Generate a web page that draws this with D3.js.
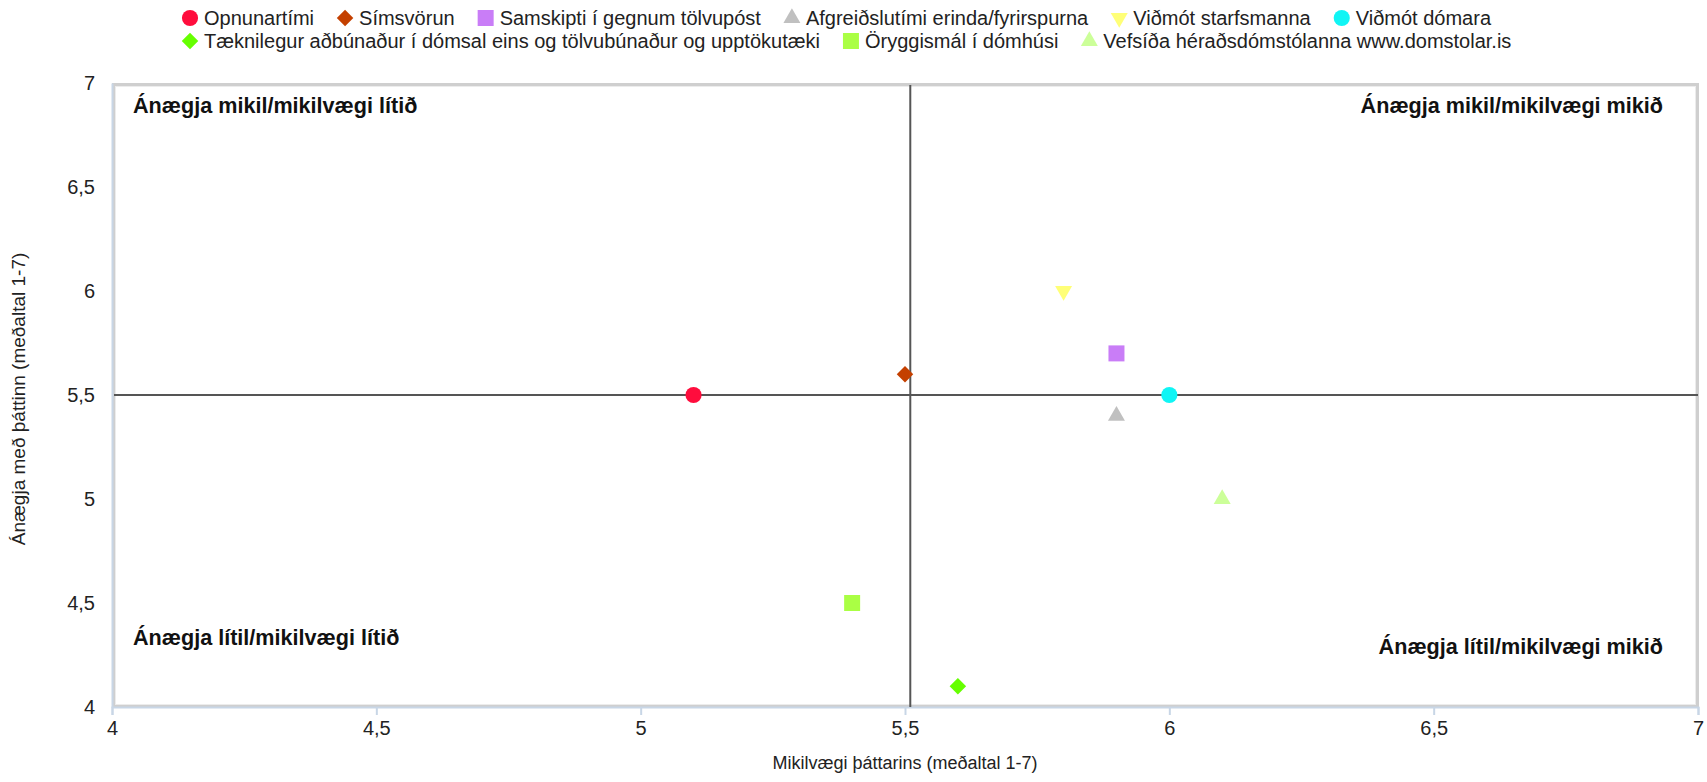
<!DOCTYPE html>
<html>
<head>
<meta charset="utf-8">
<script src="https://cdn.jsdelivr.net/npm/d3@7"></script>
<style>
    body { margin: 0; background: #fff; }
    text { font-family: "Liberation Sans", Arial, sans-serif; }
</style>
</head>
<body>
<div id="data-viz"></div>
<script>
// data
var names = ["Opnunartími", "Símsvörun", "Samskipti í gegnum tölvupóst", "Afgreiðslutími erinda/fyrirspurna",
    "Viðmót starfsmanna", "Viðmót dómara", "Tæknilegur aðbúnaður í dómsal eins og tölvubúnaður og upptökutæki",
    "Öryggismál í dómhúsi", "Vefsíða héraðsdómstólanna www.domstolar.is"];
var importance = [5.1, 5.5, 5.9, 5.9, 5.8, 6.0, 5.6, 5.4, 6.1];
var satisfaction = [5.5, 5.6, 5.7, 5.4, 6.0, 5.5, 4.1, 4.5, 5.0];
var shapes = ["circle", "diamond", "square", "triangle", "triangleDown", "circle", "diamond", "square", "triangle"];
var colors = ["#ff0d3d", "#c44000", "#c97df7", "#c0c0c0", "#ffff77", "#10f5f5", "#66ff00", "#aaff44", "#ccff99"];
var legendRows = [[0, 1, 2, 3, 4, 5], [6, 7, 8]];
var ticks = [4, 4.5, 5, 5.5, 6, 6.5, 7];
var midX = 5.51, midY = 5.5;
var quadrants = ["Ánægja mikil/mikilvægi lítið", "Ánægja mikil/mikilvægi mikið",
    "Ánægja lítil/mikilvægi lítið", "Ánægja lítil/mikilvægi mikið"];
var xTitle = "Mikilvægi þáttarins (meðaltal 1-7)";
var yTitle = "Ánægja með þáttinn (meðaltal 1-7)";

var W = 1707, H = 782;
var margin = { top: 83, right: 9, bottom: 75, left: 112 },
    width = W - margin.left - margin.right,
    height = H - margin.top - margin.bottom;

var svg = d3.select("#data-viz")
    .append("svg")
    .attr("width", W)
    .attr("height", H);

var fmt = d3.formatLocale({ decimal: ",", thousands: ".", grouping: [3], currency: ["", ""] }).format(".1~f");

var x = d3.scaleLinear().domain([4, 7]).range([0, width]);
var y = d3.scaleLinear().domain([4, 7]).range([height, 0]);

var g = svg.append("g")
    .attr("transform", "translate(" + margin.left + "," + margin.top + ")");

// frame with a soft shadow
g.append("rect")
    .attr("x", 1.5).attr("y", 1.5)
    .attr("width", width - 2).attr("height", height - 2)
    .style("fill", "#fff")
    .style("stroke", "#cfcfcf")
    .style("stroke-width", 3);
g.append("rect")
    .attr("x", 3.5).attr("y", 3.5)
    .attr("width", width - 6).attr("height", height - 6)
    .style("fill", "none")
    .style("stroke", "#ececec")
    .style("stroke-width", 1);

// axes
var xAxis = g.append("g")
    .attr("transform", "translate(0," + height + ")")
    .call(d3.axisBottom(x).tickValues(ticks).tickFormat(fmt).tickSize(8).tickPadding(6));
var yAxis = g.append("g")
    .call(d3.axisLeft(y).tickValues(ticks).tickFormat(fmt).tickSize(0).tickPadding(17));
[xAxis, yAxis].forEach(function (a) {
    a.selectAll("path, line").style("stroke", "#c8d6e6").style("stroke-width", 2);
    a.selectAll("text").style("font-size", "20px").style("fill", "#222")
        .style("font-family", "'Liberation Sans', Arial, sans-serif");
});

// crosshair
g.append("line")
    .attr("x1", x(midX)).attr("x2", x(midX))
    .attr("y1", 2).attr("y2", height)
    .style("stroke", "#555").style("stroke-width", 2);
g.append("line")
    .attr("x1", 2).attr("x2", width)
    .attr("y1", y(midY)).attr("y2", y(midY))
    .style("stroke", "#555").style("stroke-width", 2);

// quadrant labels
var qpos = [
    { x: 21, y: 30, anchor: "start" },
    { x: width - 35, y: 30, anchor: "end" },
    { x: 21, y: height - 62, anchor: "start" },
    { x: width - 35, y: height - 53, anchor: "end" }
];
g.selectAll(".quad")
    .data(quadrants)
    .enter()
    .append("text")
    .attr("class", "quad")
    .attr("x", (d, i) => qpos[i].x)
    .attr("y", (d, i) => qpos[i].y)
    .attr("text-anchor", (d, i) => qpos[i].anchor)
    .style("font-size", "21.6px")
    .style("font-weight", "bold")
    .style("fill", "#111")
    .text(d => d);

function symbolPath(shape) {
    if (shape == "circle") return d3.symbol().type(d3.symbolCircle).size(205)();
    if (shape == "square") return d3.symbol().type(d3.symbolSquare).size(256)();
    if (shape == "diamond") return d3.symbol().type(d3.symbolSquare).size(136)();
    return d3.symbol().type(d3.symbolTriangle).size(125)();
}
function symbolRotate(shape) {
    if (shape == "diamond") return 45;
    if (shape == "triangleDown") return 180;
    return 0;
}

// points
g.selectAll(".pt")
    .data(names)
    .enter()
    .append("path")
    .attr("class", "pt")
    .attr("d", (d, i) => symbolPath(shapes[i]))
    .attr("transform", function (d, i) {
        return "translate(" + x(importance[i]) + "," + y(satisfaction[i]) + ") rotate(" + symbolRotate(shapes[i]) + ")";
    })
    .style("fill", (d, i) => colors[i]);

// axis titles
svg.append("text")
    .attr("x", margin.left + width / 2)
    .attr("y", H - 13)
    .attr("text-anchor", "middle")
    .style("font-size", "18px")
    .style("fill", "#222")
    .text(xTitle);
svg.append("text")
    .attr("transform", "translate(25," + (margin.top + height / 2 + 4) + ") rotate(-90)")
    .attr("text-anchor", "middle")
    .style("font-size", "19px")
    .style("fill", "#222")
    .text(yTitle);

// legend, items flow left to right in two rows
var rowY = [18, 41];
legendRows.forEach(function (row, r) {
    var cx = 181;
    row.forEach(function (i) {
        var item = svg.append("g");
        item.append("path")
            .attr("d", symbolPath(shapes[i]))
            .attr("transform", "translate(" + (cx + 9) + "," + rowY[r] + ") rotate(" + symbolRotate(shapes[i]) + ")")
            .style("fill", colors[i]);
        var t = item.append("text")
            .attr("x", cx + 23)
            .attr("y", rowY[r])
            .attr("dy", "0.35em")
            .style("font-size", "20px")
            .style("fill", "#222")
            .text(names[i]);
        cx = cx + 23 + t.node().getComputedTextLength() + 22;
    });
});
</script>
</body>
</html>
